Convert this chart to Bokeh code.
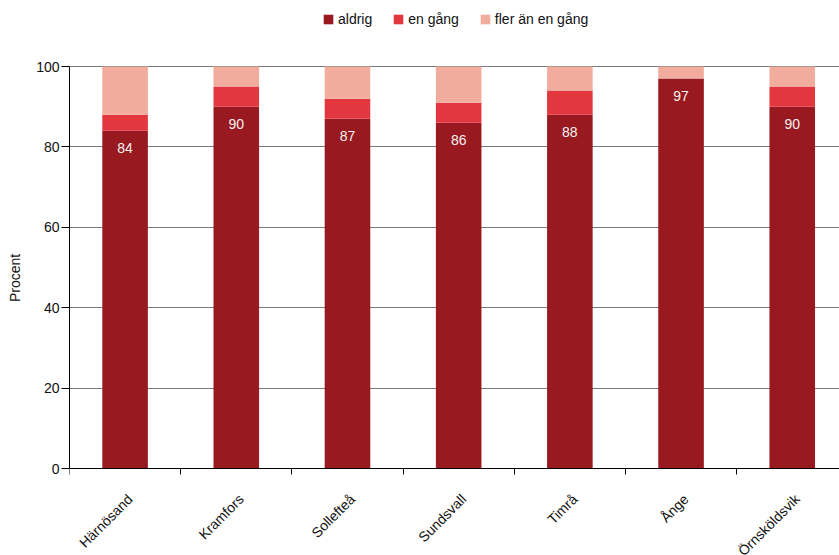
import math
from bokeh.plotting import figure
from bokeh.models import (ColumnDataSource, FixedTicker, Legend, LegendItem, Range1d, LabelSet)
from bokeh.core.properties import value
from bokeh.embed import file_html
from bokeh.resources import INLINE

categories = ["Härnösand", "Kramfors", "Sollefteå", "Sundsvall", "Timrå", "Ånge", "Örnsköldsvik"]
aldrig = [84, 90, 87, 86, 88, 97, 90]
en_gang = [4, 5, 5, 5, 6, 0, 5]
fler = [12, 5, 8, 9, 6, 3, 5]
series_names = ["aldrig", "en gång", "fler än en gång"]
y_ticks = [0, 20, 40, 60, 80, 100]

colors = ["#981A20", "#E3373F", "#F2AC9D"]
FONT = "Liberation Sans"

W, H = 839, 555
Y0_PX, Y100_PX = 468, 66          # page rows of the 0 and 100 lines
ppu = (Y0_PX - Y100_PX) / 100.0   # pixels per percent
y_lo = -(H - Y0_PX) / ppu
y_hi = Y0_PX / ppu

xs = list(range(len(categories)))
src = ColumnDataSource(dict(x=xs, aldrig=aldrig, en=en_gang, fler=fler,
                            lbl=[str(v) for v in aldrig]))

p = figure(width=W, height=H, output_backend="svg", toolbar_location=None,
           x_range=Range1d(-0.5, 6.425), y_range=Range1d(y_lo, y_hi),
           min_border_left=69, min_border_right=0, min_border_top=0,
           min_border_bottom=0)
p.outline_line_color = None

r = p.vbar_stack(["aldrig", "en", "fler"], x="x", width=0.41, source=src,
                 color=colors, line_color=None)

p.text(x="x", y="aldrig", text="lbl", source=src, y_offset=17,
       text_align="center", text_baseline="middle", text_color="#f4f0f0",
       text_font=value(FONT), text_font_size="14px")

# axes
p.xgrid.grid_line_color = None
p.ygrid.grid_line_color = "#7a7a7a"
p.ygrid.grid_line_width = 1

yax = p.yaxis[0]
yax.ticker = FixedTicker(ticks=y_ticks)
yax.bounds = (0, 100)
yax.axis_line_color = "black"
yax.major_tick_line_color = "black"
yax.major_tick_out = 8
yax.major_tick_in = 0
yax.minor_tick_line_color = None
yax.major_label_standoff = 2
yax.major_label_text_font = FONT
yax.major_label_text_font_size = "14px"
yax.major_label_text_color = "#111111"
yax.axis_label = "Procent"
yax.axis_label_text_font = FONT
yax.axis_label_text_font_size = "14px"
yax.axis_label_text_font_style = "normal"
yax.axis_label_text_color = "#111111"
yax.axis_label_standoff = 10

# x axis drawn at value 0: only category boundary ticks
xax = p.xaxis[0]
xax.fixed_location = 0
xax.ticker = FixedTicker(ticks=[], minor_ticks=[i - 0.5 for i in range(len(categories) + 1)])
xax.major_tick_line_color = None
xax.minor_tick_line_color = "black"
xax.minor_tick_out = 6
xax.minor_tick_in = 0
xax.axis_line_color = "black"

cat_src = ColumnDataSource(dict(x=[i + 0.045 for i in xs], y=[-7.0] * len(xs), name=categories))
cat_labels = LabelSet(x="x", y="y", text="name", source=cat_src, angle=math.pi / 4,
                      text_align="right", text_baseline="middle",
                      text_font=value(FONT), text_font_size="14px", text_color="#111111")
p.add_layout(cat_labels)

legend = Legend(items=[LegendItem(label=n, renderers=[rr]) for n, rr in zip(series_names, r)],
                orientation="horizontal", location=(253, H - 27),
                glyph_width=12, glyph_height=12, label_height=12,
                label_standoff=4, spacing=20, padding=0, margin=0,
                border_line_color=None, background_fill_alpha=0,
                label_text_font=FONT, label_text_font_size="14px",
                label_text_color="#111111")
p.add_layout(legend, "center")

open("out.html", "w").write(file_html(p, INLINE))
